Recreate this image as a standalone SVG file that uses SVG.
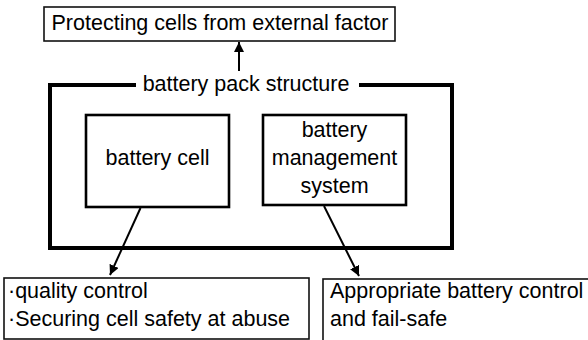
<svg xmlns="http://www.w3.org/2000/svg" width="588" height="340" viewBox="0 0 588 340">
  <style>
    text { font-family: "Liberation Sans", Arial, sans-serif; font-size: 21.5px; fill: #000; }
    .c { text-anchor: middle; }
    .thin { fill: #fff; stroke: #111; stroke-width: 1.6; }
    .mid { fill: #fff; stroke: #000; stroke-width: 2.6; }
    .thick { fill: none; stroke: #000; stroke-width: 4; }
    .conn { fill: none; stroke: #000; stroke-width: 2; }
  </style>
  <defs>
    <marker id="ah" viewBox="0 0 10 10" refX="10" refY="5" markerWidth="5" markerHeight="5" markerUnits="strokeWidth" orient="auto">
      <path d="M0,0 L10,5 L0,10 Z" fill="#000"/>
    </marker>
  </defs>

  <g id="external">
    <rect class="thin" x="44" y="7" width="351" height="34"/>
    <text class="c" x="220" y="30">Protecting cells from external factor</text>
  </g>

  <g id="pack">
    <path class="thick" d="M136,85 H50 V248 H452 V85 H359"/>
    <text class="c" x="246" y="91">battery pack structure</text>
  </g>

  <g id="cell">
    <rect class="mid" x="86" y="115" width="143" height="92"/>
    <text class="c" x="157.5" y="165">battery cell</text>
  </g>

  <g id="bms">
    <rect class="mid" x="263" y="115" width="143" height="90"/>
    <text class="c" x="334.5" y="137">battery</text>
    <text class="c" x="334.5" y="165">management</text>
    <text class="c" x="334.5" y="193">system</text>
  </g>

  <g id="cell-tasks">
    <rect class="thin" x="4" y="278" width="305" height="61"/>
    <text x="8" y="298">·quality control</text>
    <text x="8" y="326">·Securing cell safety at abuse</text>
  </g>

  <g id="bms-tasks">
    <rect class="thin" x="323" y="279" width="275" height="70"/>
    <text x="330" y="298">Appropriate battery control</text>
    <text x="330" y="326">and fail-safe</text>
  </g>

  <g id="connectors">
    <line class="conn" x1="239" y1="71" x2="239" y2="42" marker-end="url(#ah)"/>
    <line class="conn" x1="140.5" y1="208" x2="110" y2="275" marker-end="url(#ah)"/>
    <line class="conn" x1="324" y1="206" x2="359" y2="276" marker-end="url(#ah)"/>
  </g>
</svg>
